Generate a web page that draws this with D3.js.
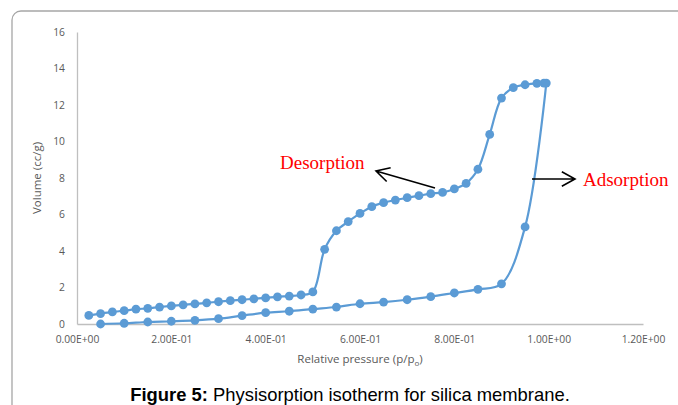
<!DOCTYPE html>
<html>
<head>
<meta charset="utf-8">
<script src="https://cdn.jsdelivr.net/npm/d3@7"></script>
<style>
    body { margin: 0; background: #fff; }
    svg { display: block; }
</style>
</head>
<body>
<svg id="graph" width="678" height="405"></svg>
<script>
    // Adsorption branch (p/p0, volume cc/g)
    var adsX = [0.05, 0.10, 0.15, 0.20, 0.25, 0.30, 0.35, 0.40, 0.45, 0.50,
                0.55, 0.60, 0.65, 0.70, 0.75, 0.80, 0.85, 0.90, 0.95, 0.995];
    var adsY = [0.00, 0.04, 0.11, 0.15, 0.20, 0.29, 0.46, 0.62, 0.70, 0.82,
                0.93, 1.11, 1.20, 1.33, 1.50, 1.70, 1.90, 2.20, 5.32, 13.20];

    // Desorption branch
    var desX = [0.99, 0.975, 0.95, 0.925, 0.90, 0.875, 0.85, 0.825, 0.80, 0.775,
                0.75, 0.725, 0.70, 0.675, 0.65, 0.625, 0.60, 0.575, 0.55, 0.525,
                0.50, 0.475, 0.45, 0.425, 0.40, 0.375, 0.35, 0.325, 0.30, 0.275,
                0.25, 0.225, 0.20, 0.175, 0.15, 0.125, 0.10, 0.075, 0.05, 0.025];
    var desY = [13.20, 13.19, 13.11, 12.95, 12.38, 10.39, 8.48, 7.71, 7.40, 7.21,
                7.14, 7.03, 6.92, 6.79, 6.65, 6.43, 6.06, 5.61, 5.11, 4.09,
                1.76, 1.59, 1.53, 1.49, 1.43, 1.38, 1.33, 1.28, 1.22, 1.16,
                1.10, 1.05, 0.99, 0.93, 0.86, 0.81, 0.73, 0.66, 0.57, 0.47];

    var xTicks = [0, 0.2, 0.4, 0.6, 0.8, 1.0, 1.2];
    var xTickLabels = ["0.00E+00", "2.00E-01", "4.00E-01", "6.00E-01", "8.00E-01", "1.00E+00", "1.20E+00"];
    var yTicks = [0, 2, 4, 6, 8, 10, 12, 14, 16];

    var svg = d3.select("#graph");
    var blue = "#5B9BD5";

    // outer frame (cropped at the right and bottom)
    svg.append("rect")
        .attr("x", 12).attr("y", 11)
        .attr("width", 720).attr("height", 440)
        .attr("rx", 9)
        .attr("fill", "none")
        .attr("stroke", "#A6A6A6")
        .attr("stroke-width", 1.3);

    // set the ranges
    var x = d3.scaleLinear().domain([0, 1.2]).range([77, 643]),
        y = d3.scaleLinear().domain([0, 16]).range([324, 32]);

    // axes
    var xAxis = svg.append("g")
        .attr("transform", "translate(0,324)")
        .call(d3.axisBottom(x).tickValues(xTicks).tickSize(0).tickPadding(12)
            .tickFormat(function (d, i) { return xTickLabels[i]; }));
    var yAxis = svg.append("g")
        .attr("transform", "translate(77,0)")
        .call(d3.axisLeft(y).tickValues(yTicks).tickSize(0).tickPadding(12));

    [xAxis, yAxis].forEach(function (g) {
        g.select(".domain").attr("stroke", "#BFBFBF").attr("stroke-width", 1.3);
        g.selectAll("text")
            .attr("fill", "#595959")
            .style("font-family", "'Open Sans', sans-serif")
            .style("font-size", "10.3px");
    });

    // axis titles
    var xTitle = svg.append("text")
        .attr("x", 360).attr("y", 363)
        .attr("text-anchor", "middle")
        .attr("fill", "#595959")
        .style("font-family", "'Open Sans', sans-serif")
        .style("font-size", "11.5px");
    xTitle.append("tspan").text("Relative pressure (p/p");
    xTitle.append("tspan").attr("dy", 3).style("font-size", "8px").text("o");
    xTitle.append("tspan").attr("dy", -3).text(")");

    svg.append("text")
        .attr("transform", "translate(41,178) rotate(-90)")
        .attr("text-anchor", "middle")
        .attr("fill", "#595959")
        .style("font-family", "'Open Sans', sans-serif")
        .style("font-size", "11.5px")
        .text("Volume (cc/g)");

    // define the line
    var line = d3.line()
        .x(function (d) { return x(d[0]); })
        .y(function (d) { return y(d[1]); })
        .curve(d3.curveCatmullRom.alpha(0.5));

    var series = [d3.zip(adsX, adsY), d3.zip(desX, desY)];

    series.forEach(function (pts) {
        svg.append("path")
            .attr("d", line(pts))
            .attr("fill", "none")
            .attr("stroke", blue)
            .attr("stroke-width", 2.2);
        svg.selectAll(null)
            .data(pts)
            .enter().append("circle")
            .attr("cx", function (d) { return x(d[0]); })
            .attr("cy", function (d) { return y(d[1]); })
            .attr("r", 4.4)
            .attr("fill", blue);
    });

    // annotations
    function arrow(x1, y1, x2, y2) {
        var a = Math.atan2(y2 - y1, x2 - x1), L = 15, s = 0.5;
        svg.append("path")
            .attr("d", "M" + x1 + "," + y1 + "L" + x2 + "," + y2 +
                "M" + (x2 - L * Math.cos(a - s)) + "," + (y2 - L * Math.sin(a - s)) +
                "L" + x2 + "," + y2 +
                "L" + (x2 - L * Math.cos(a + s)) + "," + (y2 - L * Math.sin(a + s)))
            .attr("fill", "none")
            .attr("stroke", "#000")
            .attr("stroke-width", 1.6);
    }
    arrow(435, 188, 376, 171);
    arrow(532, 179, 575, 179);

    svg.append("text")
        .attr("x", 280).attr("y", 169)
        .attr("fill", "#FF0000")
        .style("font-family", "'Liberation Serif', serif")
        .style("font-size", "19px")
        .text("Desorption");
    svg.append("text")
        .attr("x", 583).attr("y", 186)
        .attr("fill", "#FF0000")
        .style("font-family", "'Liberation Serif', serif")
        .style("font-size", "19px")
        .text("Adsorption");

    // caption
    var cap = svg.append("text")
        .attr("x", 350).attr("y", 401)
        .attr("text-anchor", "middle")
        .attr("fill", "#000")
        .style("font-family", "'Liberation Sans', Arial, sans-serif")
        .style("font-size", "18.4px");
    cap.append("tspan").style("font-weight", "bold").text("Figure 5:");
    cap.append("tspan").text(" Physisorption isotherm for silica membrane.");
</script>
</body>
</html>
